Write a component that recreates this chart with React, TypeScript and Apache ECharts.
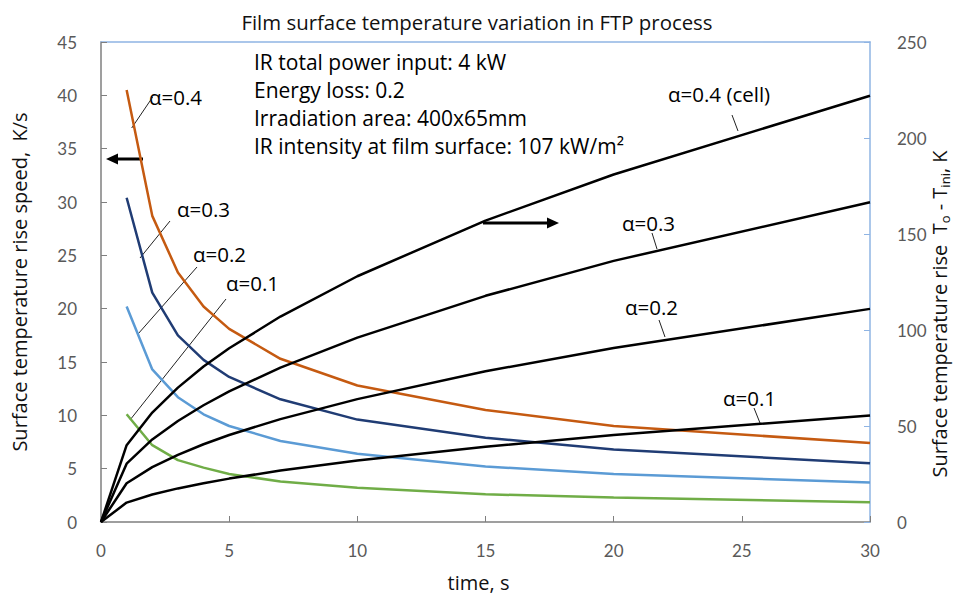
import React, { useEffect, useRef } from "react";
import * as echarts from "echarts";

const times = [1, 2, 3, 4, 5, 7, 10, 15, 20, 30];
const timesT = [0, 1, 2, 3, 4, 5, 7, 10, 15, 20, 30];

// Surface temperature rise speed, K/s (left axis)
const speed04 = [40.5, 28.7, 23.4, 20.2, 18.1, 15.3, 12.8, 10.5, 9.0, 7.4];
const speed03 = [30.4, 21.5, 17.5, 15.2, 13.6, 11.5, 9.6, 7.9, 6.8, 5.5];
const speed02 = [20.2, 14.3, 11.7, 10.1, 9.0, 7.6, 6.4, 5.2, 4.5, 3.7];
const speed01 = [10.1, 7.2, 5.8, 5.1, 4.5, 3.8, 3.2, 2.6, 2.3, 1.85];

// Surface temperature rise To - Tini, K (right axis)
const rise04 = [0, 40, 57, 70, 81, 90.5, 107, 128, 157, 181, 222];
const rise03 = [0, 30.4, 43, 52.6, 60.8, 68, 80.4, 96, 117.8, 136, 166.5];
const rise02 = [0, 20.2, 28.6, 35, 40.5, 45.3, 53.6, 64, 78.5, 90.6, 111];
const rise01 = [0, 10.1, 14.3, 17.5, 20.2, 22.6, 26.8, 32, 39.2, 45.3, 55.5];

const infoLines = [
  "IR total power input: 4 kW",
  "Energy loss: 0.2",
  "Irradiation area: 400x65mm",
  "IR intensity at film surface: 107 kW/m²",
];

const FONT = "'Open Sans', sans-serif";
const NUMFONT = "Lato, sans-serif";

const labelAnn = [
  { text: "α=0.4", x: 149, y: 97, l: [131.7, 128, 152.7, 97] },
  { text: "α=0.3", x: 177, y: 209, l: [140, 258, 170, 221] },
  { text: "α=0.2", x: 193, y: 254, l: [138, 334, 197, 267] },
  { text: "α=0.1", x: 226, y: 283, l: [130, 420, 226, 299] },
  { text: "α=0.4 (cell)", x: 668, y: 94, l: [732, 115, 738, 131] },
  { text: "α=0.3", x: 622, y: 223, l: [652, 233, 657, 249] },
  { text: "α=0.2", x: 625, y: 307, l: [659, 320, 665, 337] },
  { text: "α=0.1", x: 723, y: 398, l: [754, 408, 760, 423] },
];

function pairs(xs: number[], ys: number[]) {
  return xs.map((x, i) => [x, ys[i]]);
}

export default function App() {
  const ref = useRef<HTMLDivElement>(null);
  useEffect(() => {
    if (!ref.current) return;
    const chart = echarts.init(ref.current, undefined, { renderer: "svg" });
    const lineSeries = (name: string, data: number[][], color: string, yAxisIndex: number) => ({
      name,
      type: "line",
      data,
      yAxisIndex,
      symbol: "none",
      smooth: false,
      lineStyle: { color, width: 2.5 },
      itemStyle: { color },
      z: yAxisIndex === 0 ? 3 : 4,
    });

    const graphics: any[] = [];
    infoLines.forEach((t, i) => {
      graphics.push({
        type: "text",
        x: 254,
        y: 62 + i * 28,
        style: { text: t, font: `21px ${FONT}`, fill: "#000", verticalAlign: "middle" },
      });
    });
    labelAnn.forEach((a) => {
      graphics.push({
        type: "text",
        x: a.x,
        y: a.y,
        style: { text: a.text, font: `20.5px ${FONT}`, fill: "#000", verticalAlign: "middle" },
      });
      graphics.push({
        type: "line",
        shape: { x1: a.l[0], y1: a.l[1], x2: a.l[2], y2: a.l[3] },
        style: { stroke: "#222", lineWidth: 1 },
      });
    });
    // arrows
    graphics.push({
      type: "line",
      shape: { x1: 143, y1: 159, x2: 115, y2: 159 },
      style: { stroke: "#000", lineWidth: 3 },
    });
    graphics.push({
      type: "polygon",
      shape: { points: [[106, 159], [118, 153.5], [118, 164.5]] },
      style: { fill: "#000" },
    });
    graphics.push({
      type: "line",
      shape: { x1: 483, y1: 223, x2: 549, y2: 223 },
      style: { stroke: "#000", lineWidth: 3 },
    });
    graphics.push({
      type: "polygon",
      shape: { points: [[559, 223], [547, 217.5], [547, 228.5]] },
      style: { fill: "#000" },
    });

    chart.setOption({
      animation: false,
      backgroundColor: "#fff",
      title: {
        text: "Film surface temperature variation in FTP process",
        left: "center",
        top: 7,
        textStyle: { fontFamily: FONT, fontSize: 20.4, fontWeight: "normal", color: "#111" },
      },
      grid: { left: 101, right: 84, top: 42, bottom: 72, containLabel: false, outerBoundsMode: "none" },
      xAxis: [
        {
          type: "value",
          min: 0,
          max: 30,
          interval: 5,
          name: "time, s",
          nameLocation: "middle",
          nameGap: 50,
          nameMoveOverlap: false,
          nameTextStyle: { fontFamily: FONT, fontSize: 20, color: "#111", padding: [0, 14, 0, 0] },
          axisLine: { onZero: false, lineStyle: { color: "#7f7f7f", width: 1.5 } },
          axisTick: { inside: true, length: 6, lineStyle: { color: "#7f7f7f" } },
          axisLabel: { margin: 20, fontFamily: NUMFONT, fontSize: 17, color: "#595959" },
          splitLine: { show: false },
        },
        {
          type: "value",
          position: "top",
          min: 0,
          max: 30,
          axisLine: { show: true, onZero: false, lineStyle: { color: "#8fb4e3", width: 1.5 } },
          axisTick: { show: false },
          axisLabel: { show: false },
          splitLine: { show: false },
        },
      ],
      yAxis: [
        {
          type: "value",
          min: 0,
          max: 45,
          interval: 5,
          position: "left",
          name: "Surface temperature rise speed,  K/s",
          nameLocation: "middle",
          nameGap: 72,
          nameMoveOverlap: false,
          nameTextStyle: { fontFamily: FONT, fontSize: 20, color: "#111" },
          axisLine: { show: true, onZero: false, lineStyle: { color: "#7f7f7f", width: 1.5 } },
          axisTick: { show: true, inside: true, length: 6, lineStyle: { color: "#7f7f7f" } },
          axisLabel: { margin: 24, fontFamily: NUMFONT, fontSize: 17, color: "#595959" },
          splitLine: { show: false },
        },
        {
          type: "value",
          min: 0,
          max: 250,
          interval: 50,
          position: "right",
          name: "{a|Surface temperature rise  T}{s|o}{a| - T}{s|ini}{a|, K}",
          nameLocation: "middle",
          nameGap: 57,
          nameMoveOverlap: false,
          nameTextStyle: {
            fontFamily: FONT,
            fontSize: 20,
            color: "#111",
            padding: [0, 64, 0, 0],
            rich: {
              a: { fontFamily: FONT, fontSize: 20, color: "#111", lineHeight: 24 },
              s: { fontFamily: FONT, fontSize: 13, color: "#111", lineHeight: 17, verticalAlign: "bottom" },
            },
          },
          axisLine: { show: true, onZero: false, lineStyle: { color: "#8fb4e3", width: 1.5 } },
          axisTick: { show: true, inside: true, length: 6, lineStyle: { color: "#8fb4e3" } },
          axisLabel: { margin: 27, fontFamily: NUMFONT, fontSize: 17, color: "#595959" },
          splitLine: { show: false },
        },
      ],
      series: [
        lineSeries("speed α=0.4", pairs(times, speed04), "#c55a11", 0),
        lineSeries("speed α=0.3", pairs(times, speed03), "#203c74", 0),
        lineSeries("speed α=0.2", pairs(times, speed02), "#5b9bd5", 0),
        lineSeries("speed α=0.1", pairs(times, speed01), "#70ad47", 0),
        lineSeries("rise α=0.4 (cell)", pairs(timesT, rise04), "#000", 1),
        lineSeries("rise α=0.3", pairs(timesT, rise03), "#000", 1),
        lineSeries("rise α=0.2", pairs(timesT, rise02), "#000", 1),
        lineSeries("rise α=0.1", pairs(timesT, rise01), "#000", 1),
      ],
      graphic: graphics,
    });
    return () => chart.dispose();
  }, []);
  return <div ref={ref} style={{ width: 954, height: 594, position: "absolute", left: 0, top: 0 }} />;
}
